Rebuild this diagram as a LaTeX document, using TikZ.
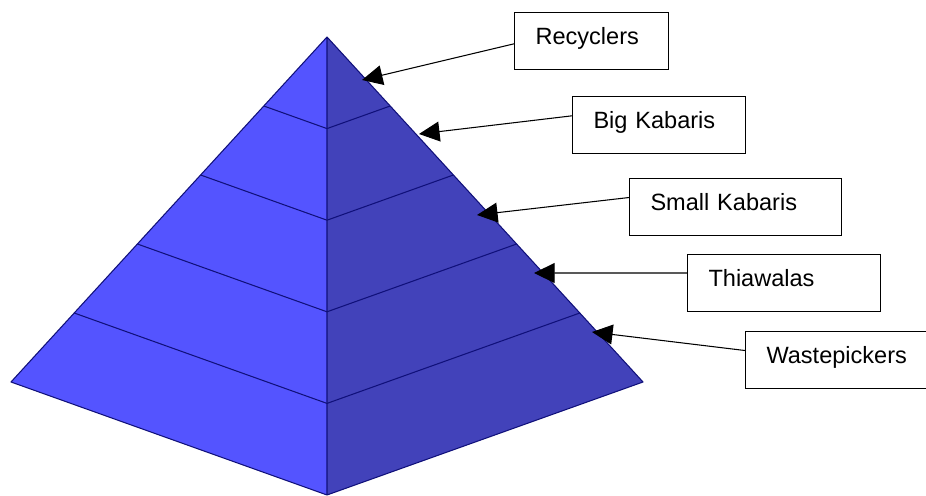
\documentclass[tikz,border=0pt]{standalone}
\usepackage{fontspec}
\setmainfont{Liberation Sans}
\usetikzlibrary{calc,arrows.meta}
\definecolor{leftface}{HTML}{5454FF}
\definecolor{rightface}{HTML}{4242BA}
\definecolor{edge}{HTML}{10107A}
\tikzset{tag/.style={draw,line width=0.6pt,anchor=north west,inner xsep=0.42cm,
    text width=#1,align=left,minimum height=1.14cm,text height=0.55em,text depth=0.21em}}
\begin{document}
\begin{tikzpicture}[x=0.02cm,y=-0.02cm,font=\fontsize{13.4}{16}\selectfont]
\useasboundingbox (0,0) rectangle (926,496);
\coordinate (apex) at (327,37);
\coordinate (left) at (11,382);
\coordinate (right) at (643,382);
\coordinate (bottom) at (327,495);
\fill[leftface] (apex) -- (left) -- (bottom) -- cycle;
\fill[rightface] (apex) -- (right) -- (bottom) -- cycle;
\foreach \t in {0.2,0.4,0.6,0.8}
  \draw[edge,line width=0.6pt] ($(apex)!\t!(left)$) -- ($(apex)!\t!(bottom)$) -- ($(apex)!\t!(right)$);
\draw[edge,line width=0.6pt,line join=round] (apex) -- (left) -- (bottom) -- (right) -- cycle (apex) -- (bottom);
% labels
\foreach \n/\x/\y/\w/\s in {rec/514/12/2.24/Recyclers, big/572/96/2.62/Big Kabaris,
    small/629/178/3.40/Small Kabaris, thia/687/254/3.02/Thiawalas, waste/745/331/3.60/Wastepickers}
  \node[tag=\w cm] (\n) at (\x,\y) {\s};
\foreach \n/\x/\y in {rec/362/80, big/419/134, small/477/215, thia/534/273, waste/592/332}
  \coordinate (\n tip) at (\x,\y);
\foreach \n/\d in {rec/-0.056, big/0.184, small/0.19, thia/0.2, waste/0.19}
  \draw[-{Triangle[length=11.7pt,width=11.3pt]},line width=0.6pt] ([yshift=\d cm]\n.west) -- (\n tip);
\end{tikzpicture}
\end{document}
